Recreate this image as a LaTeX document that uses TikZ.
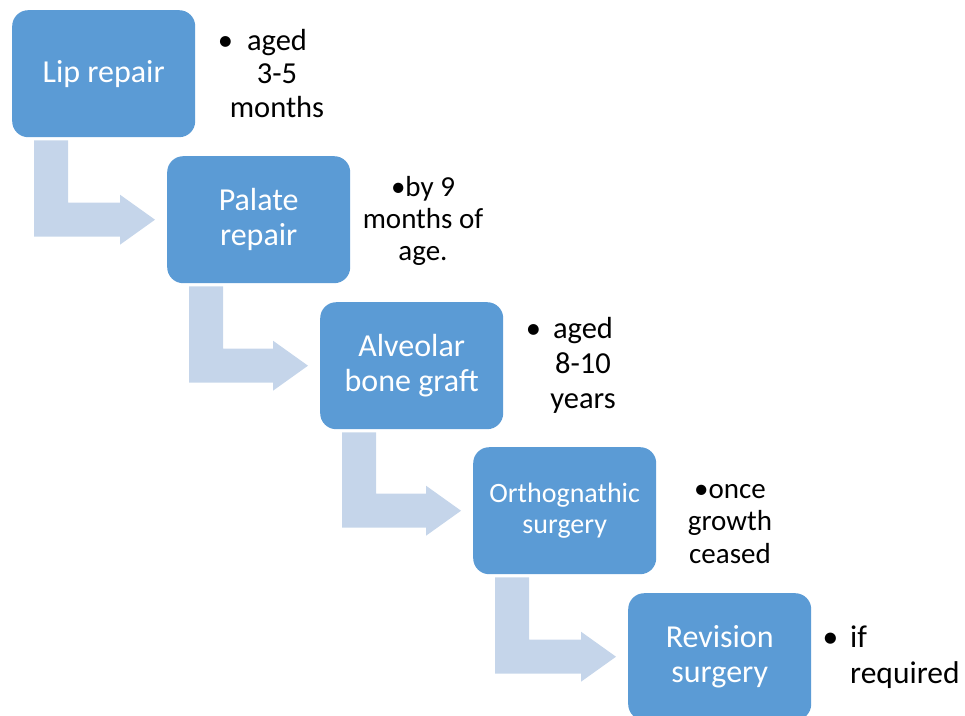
\documentclass[tikz,border=0pt]{standalone}
\usepackage{fontspec}
\setmainfont{Carlito}
\usetikzlibrary{calc}

\definecolor{stepblue}{HTML}{5B9BD5}
\definecolor{flowblue}{HTML}{C5D5EA}

\tikzset{
  stage/.style={fill=stepblue, rounded corners=16pt, minimum width=183pt,
    minimum height=127pt, text=white, align=center, inner sep=0pt,
    anchor=north west, font=\fontsize{32}{34.5}\selectfont},
  note/.style={text=black, inner sep=0pt, anchor=base},
  flow/.style={fill=flowblue, draw=none}
}

% bent block arrow: down out of stage #1, then right into stage #2
\newcommand{\bendarrow}[2]{%
  \coordinate (ta) at ($(#1.south west)+(22,-3)$);
  \coordinate (tb) at ($(#1.south west)+(56,-3)$);
  \coordinate (tip) at ($(#2.west)+(-12,0)$);
  \fill[flow] (tb) |- ($(tip)+(-35,17)$) -- ($(tip)+(-35,25)$) -- (tip)
    -- ($(tip)+(-35,-25)$) -- ($(tip)+(-35,-17)$) -| (ta) -- cycle;
}

\begin{document}
\begin{tikzpicture}[x=1pt,y=1pt]
  \useasboundingbox (0,0) rectangle (965,-715);
  \clip (0,0) rectangle (965,-715);

  % stages
  \node[stage] (s1) at (12,-10)  {Lip repair};
  \node[stage] (s2) at (167,-156) {Palate\\repair};
  \node[stage] (s3) at (320,-302) {Alveolar\\bone graft};
  \node[stage, font=\fontsize{28}{31}\selectfont] (s4) at (473,-447) {Orthognathic\\surgery};
  \node[stage] (s5) at (628,-593) {Revision\\surgery};

  % arrows between stages
  \bendarrow{s1}{s2}
  \bendarrow{s2}{s3}
  \bendarrow{s3}{s4}
  \bendarrow{s4}{s5}

  % timing notes (placed by the baseline of their last line)
  \node[note, align=center, font=\fontsize{30.5}{33.5}\selectfont] (n1) at (277,-117)
    {\makebox[0pt][r]{\textbullet\hspace{14pt}}aged\\3-5\\months};
  \node[note, align=center, font=\fontsize{29}{32}\selectfont] (n2) at (423,-260)
    {\textbullet by 9\\months of\\age.};
  \node[note, align=center, font=\fontsize{30.5}{35}\selectfont] (n3) at (583,-408)
    {\makebox[0pt][r]{\textbullet\hspace{12pt}}aged\\8-10\\years};
  \node[note, align=center, font=\fontsize{29}{32.5}\selectfont] (n4) at (730,-563)
    {\textbullet once\\growth\\ceased};
  \node[note, align=left, font=\fontsize{31.5}{36}\selectfont, anchor=base west] (n5) at (850,-683)
    {\makebox[0pt][r]{\textbullet\hspace{12pt}}if\\required};
\end{tikzpicture}
\end{document}
